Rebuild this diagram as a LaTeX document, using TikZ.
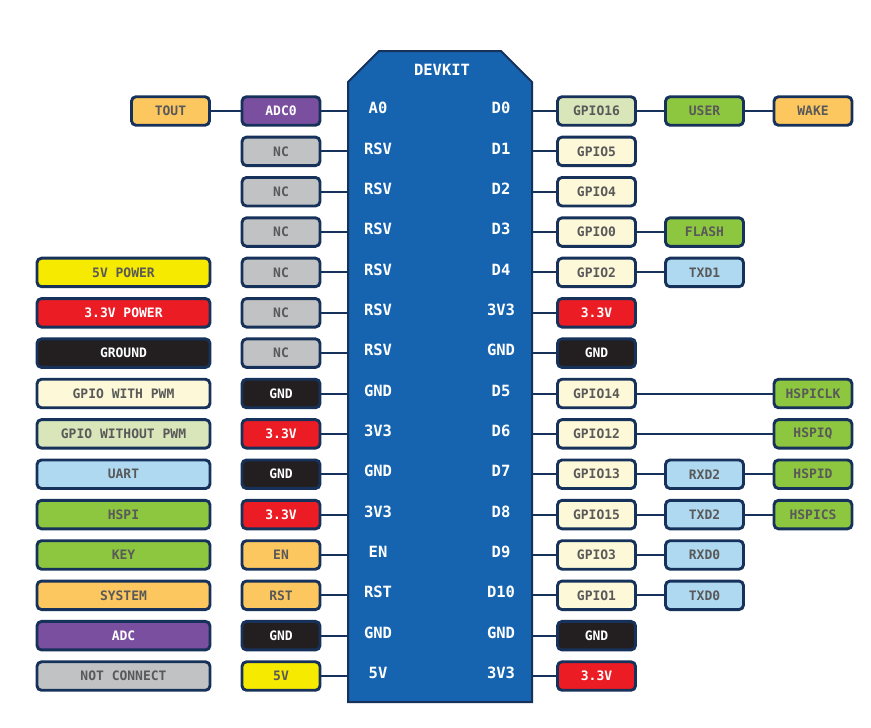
\documentclass[tikz,border=0pt]{standalone}
\usepackage{fontspec}
\newfontfamily\pinfont{DejaVu Sans Mono}
\definecolor{navy}{HTML}{17325A}
\definecolor{boardblue}{HTML}{1664B0}
\definecolor{txtgrey}{HTML}{595959}
\definecolor{corange}{HTML}{FDC760}
\definecolor{cpurple}{HTML}{7A4F9F}
\definecolor{cgrey}{HTML}{C1C2C4}
\definecolor{ccream}{HTML}{FDF8D8}
\definecolor{clgreen}{HTML}{D8E6B9}
\definecolor{cgreen}{HTML}{8DC63F}
\definecolor{cblue}{HTML}{AFD9F1}
\definecolor{cyellow}{HTML}{F5EA00}
\definecolor{cred}{HTML}{EC1C24}
\definecolor{cblack}{HTML}{231F20}
\begin{document}
\begin{tikzpicture}[x=1pt,y=-1pt,
  pinbox/.style={draw=navy, line width=2.9pt, rounded corners=4.5pt,
    minimum width=78pt, minimum height=28.5pt, inner sep=0pt,
    font=\pinfont\bfseries\fontsize{13}{15}\selectfont, text=txtgrey},
  legbox/.style={pinbox, minimum width=173pt},
  conn/.style={draw=navy, line width=2pt},
  boardtxt/.style={text=white, inner sep=0pt, font=\pinfont\bfseries\fontsize{15.5}{17}\selectfont},
  Co/.style={fill=corange}, Cp/.style={fill=cpurple,text=white},
  Cg/.style={fill=cgrey}, Cc/.style={fill=ccream}, Cl/.style={fill=clgreen},
  Cn/.style={fill=cgreen}, Cb/.style={fill=cblue}, Cy/.style={fill=cyellow},
  Cr/.style={fill=cred,text=white}, Ck/.style={fill=cblack,text=white}]
\useasboundingbox (0,0) rectangle (871,728);
\fill[white] (0,0) rectangle (871,728);
% board
\draw[fill=boardblue, draw=navy, line width=2pt]
  (348,82) -- (379,51) -- (501,51) -- (532,82) -- (532,702) -- (348,702) -- cycle;
\node[boardtxt] (devkit) at (442,70) {DEVKIT};
% left board labels
\foreach \i/\t in {0/A0,1/RSV,2/RSV,3/RSV,4/RSV,5/RSV,6/RSV,7/GND,8/3V3,9/GND,10/3V3,11/EN,12/RST,13/GND,14/5V}
  \node[boardtxt] (BA\i) at (378,{108+40.36*\i}) {\t};
\foreach \i/\t in {0/D0,1/D1,2/D2,3/D3,4/D4,5/3V3,6/GND,7/D5,8/D6,9/D7,10/D8,11/D9,12/D10,13/GND,14/3V3}
  \node[boardtxt] (BB\i) at (501,{108+40.36*\i}) {\t};
% left pin column
\foreach \i/\t/\s in {0/ADC0/Cp,1/NC/Cg,2/NC/Cg,3/NC/Cg,4/NC/Cg,5/NC/Cg,6/NC/Cg,7/GND/Ck,8/3.3V/Cr,9/GND/Ck,10/3.3V/Cr,11/EN/Co,12/RST/Co,13/GND/Ck,14/5V/Cy}{
  \node[pinbox,\s] (L\i) at (281,{111+40.36*\i}) {\t};
  \coordinate (BL\i) at (348,{111+40.36*\i});
  \draw[conn] (L\i.east) -- (BL\i);
}
\node[pinbox,Co] (tout) at (170.5,111) {TOUT};
\draw[conn] (tout.east) -- (L0.west);
% legend
\foreach \i/\t/\s in {4/5V POWER/Cy,5/3.3V POWER/Cr,6/GROUND/Ck,7/GPIO WITH PWM/Cc,8/GPIO WITHOUT PWM/Cl,9/UART/Cb,10/HSPI/Cn,11/KEY/Cn,12/SYSTEM/Co,13/ADC/Cp,14/NOT CONNECT/Cg}
  \node[legbox,\s] (G\i) at (123.5,{111+40.36*\i}) {\t};
% right pin column
\foreach \i/\t/\s in {0/GPIO16/Cl,1/GPIO5/Cc,2/GPIO4/Cc,3/GPIO0/Cc,4/GPIO2/Cc,5/3.3V/Cr,6/GND/Ck,7/GPIO14/Cc,8/GPIO12/Cc,9/GPIO13/Cc,10/GPIO15/Cc,11/GPIO3/Cc,12/GPIO1/Cc,13/GND/Ck,14/3.3V/Cr}{
  \node[pinbox,\s] (R\i) at (596.5,{111+40.36*\i}) {\t};
  \coordinate (BR\i) at (532,{111+40.36*\i});
  \draw[conn] (BR\i) -- (R\i.west);
}
% second right column
\foreach \i/\t/\s in {0/USER/Cn,3/FLASH/Cn,4/TXD1/Cb,9/RXD2/Cb,10/TXD2/Cb,11/RXD0/Cb,12/TXD0/Cb}{
  \node[pinbox,\s] (S\i) at (704.5,{111+40.36*\i}) {\t};
  \draw[conn] (R\i.east) -- (S\i.west);
}
% third right column
\node[pinbox,Co] (T0) at (813,111) {WAKE};
\draw[conn] (S0.east) -- (T0.west);
\foreach \i/\t in {7/HSPICLK,8/HSPIQ}{
  \node[pinbox,Cn] (T\i) at (813,{111+40.36*\i}) {\t};
  \draw[conn] (R\i.east) -- (T\i.west);
}
\foreach \i/\t in {9/HSPID,10/HSPICS}{
  \node[pinbox,Cn] (T\i) at (813,{111+40.36*\i}) {\t};
  \draw[conn] (S\i.east) -- (T\i.west);
}
\end{tikzpicture}
\end{document}
